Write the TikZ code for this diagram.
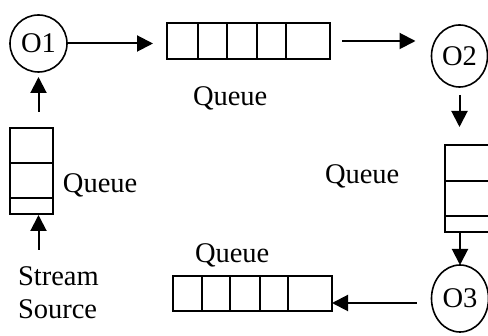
\documentclass[tikz,border=0pt]{standalone}
\usepackage{fontspec}
\setmainfont{Liberation Serif}
\usetikzlibrary{shapes.geometric,arrows.meta}
\begin{document}
\begin{tikzpicture}[x=1pt,y=-1pt,
  every node/.style={font=\fontsize{28.5}{33}\selectfont, inner sep=0pt, outer sep=0pt},
  op/.style={ellipse, draw, line width=1.6pt},
  qbox/.style={rectangle, draw, line width=2.2pt},
  cell/.style={line width=2.2pt},
  arr/.style={line width=2pt, -{Triangle[length=16pt,width=16pt]}},
  lbl/.style={anchor=base west}]
\useasboundingbox (0,0) rectangle (488,336);
\clip (0,0) rectangle (488,336);

% operators
\node[op, minimum width=57pt, minimum height=57pt] (o1) at (38.5,43.5) {O1};
\node[op, minimum width=56pt, minimum height=62pt] (o2) at (459.5,56) {O2};
\node[op, minimum width=57pt, minimum height=67pt] (o3) at (460,298.5) {O3};

% queues
\node[qbox, minimum width=163pt, minimum height=36pt] (tq) at (248.5,41) {};
\foreach \d in {31,60,90,119}
  \draw[cell] ([xshift=\d pt]tq.north west) -- ([xshift=\d pt]tq.south west);

\node[qbox, minimum width=159pt, minimum height=35pt] (bq) at (252.5,293.5) {};
\foreach \d in {29,57,87,115}
  \draw[cell] ([xshift=\d pt]bq.north west) -- ([xshift=\d pt]bq.south west);

\node[qbox, minimum width=43pt, minimum height=86pt] (lq) at (31.5,171) {};
\foreach \d in {35,70}
  \draw[cell] ([yshift=-\d pt]lq.north west) -- ([yshift=-\d pt]lq.north east);

\node[qbox, minimum width=44pt, minimum height=87pt] (rq) at (467,188.5) {};
\foreach \d in {36,71}
  \draw[cell] ([yshift=-\d pt]rq.north west) -- ([yshift=-\d pt]rq.north east);

% labels
\node[lbl] (tql) at (193,106) {Queue};
\node[lbl] (bql) at (195,263) {Queue};
\node[lbl] (lql) at (63,193) {Queue};
\node[lbl] (rql) at (325,184) {Queue};
\node[anchor=north west, align=left] (src) at (18,267) {Stream\\Source};

% connectors
\draw[arr, shorten >=14pt] (o1.east) -- (o1.east -| tq.west);
\draw[arr, shorten <=12pt, shorten >=16pt] (tq.east) -- (tq.east -| o2.west);
\draw[arr, shorten <=8pt, shorten >=18pt] (o2.south) -- (o2.south |- rq.north);
\draw[arr] (o3.north |- rq.south) -- (o3.north);
\draw[arr, shorten <=15pt] ([yshift=-4.5pt]o3.west) -- ([yshift=-4.5pt]o3.west -| bq.east);
\draw[arr, shorten <=16pt, shorten >=5pt] (o1.south |- lq.north) -- (o1.south);
\draw[arr, shorten <=17pt, shorten >=1pt] (o1.south |- src.north) -- (o1.south |- lq.south);
\end{tikzpicture}
\end{document}
